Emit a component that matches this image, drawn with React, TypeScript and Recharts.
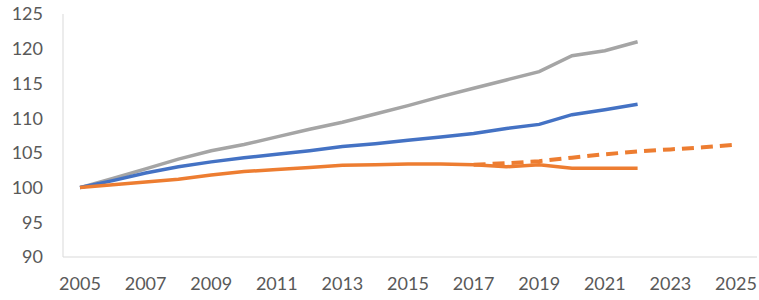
import React from "react";
import { LineChart, Line, XAxis, YAxis } from "recharts";

const years = [2005, 2006, 2007, 2008, 2009, 2010, 2011, 2012, 2013, 2014, 2015, 2016, 2017, 2018, 2019, 2020, 2021, 2022, 2023, 2024, 2025];
const grayValues: (number | null)[] = [100, 101.3, 102.7, 104.1, 105.3, 106.2, 107.3, 108.4, 109.4, 110.6, 111.8, 113.1, 114.3, 115.5, 116.7, 119.0, 119.7, 121.0, null, null, null];
const blueValues: (number | null)[] = [100, 101.0, 102.1, 103.0, 103.7, 104.3, 104.8, 105.3, 105.9, 106.3, 106.8, 107.3, 107.8, 108.5, 109.1, 110.5, 111.2, 112.0, null, null, null];
const orangeValues: (number | null)[] = [100, 100.4, 100.8, 101.2, 101.8, 102.3, 102.6, 102.9, 103.2, 103.3, 103.4, 103.4, 103.3, 103.0, 103.3, 102.8, 102.8, 102.8, null, null, null];
const orangeDashedValues: (number | null)[] = [null, null, null, null, null, null, null, null, null, null, null, null, 103.3, 103.5, 103.8, 104.3, 104.8, 105.2, 105.5, 105.8, 106.2];
const xTicks = [2005, 2007, 2009, 2011, 2013, 2015, 2017, 2019, 2021, 2023, 2025];
const yTicks = [90, 95, 100, 105, 110, 115, 120, 125];

const data = years.map((y, i) => ({
  year: y,
  gray: grayValues[i],
  blue: blueValues[i],
  orange: orangeValues[i],
  orangeDashed: orangeDashedValues[i],
}));

const tickStyle = { fontFamily: "Lato, 'Open Sans', sans-serif", fontSize: 18, fill: "#595959" };

export default function App() {
  return (
    <div style={{ position: "absolute", left: 0, top: 0, width: 759, height: 300, background: "#fff" }}>
      <LineChart width={759} height={300} data={data} margin={{ top: 14, right: 2, bottom: 0, left: 0 }}>
        <XAxis
          dataKey="year"
          type="number"
          domain={[2005, 2025]}
          ticks={xTicks}
          interval={0}
          padding={{ left: 17, right: 21 }}
          height={43}
          tickLine={false}
          tickSize={0}
          tickMargin={20}
          axisLine={{ stroke: "#D9D9D9", strokeWidth: 1 }}
          tick={tickStyle}
        />
        <YAxis
          type="number"
          domain={[90, 125]}
          ticks={yTicks}
          interval={0}
          width={63}
          tickLine={false}
          tickSize={0}
          tickMargin={20}
          axisLine={{ stroke: "#D9D9D9", strokeWidth: 1 }}
          tick={tickStyle}
        />
        <Line dataKey="gray" stroke="#A5A5A5" strokeWidth={3.5} dot={false} isAnimationActive={false} />
        <Line dataKey="blue" stroke="#4472C4" strokeWidth={3.5} dot={false} isAnimationActive={false} />
        <Line dataKey="orangeDashed" stroke="#ED7D31" strokeWidth={4} strokeDasharray="12 7" dot={false} isAnimationActive={false} />
        <Line dataKey="orange" stroke="#ED7D31" strokeWidth={3.5} dot={false} isAnimationActive={false} />
      </LineChart>
    </div>
  );
}
